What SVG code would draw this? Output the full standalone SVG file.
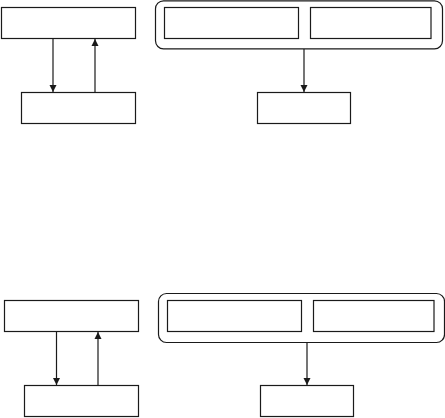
<svg xmlns="http://www.w3.org/2000/svg" width="445" height="418" viewBox="0 0 445 418">
<style>
.box{fill:none;stroke:#1a1a1a;stroke-width:1.2}
.con{fill:none;stroke:#1a1a1a;stroke-width:1.2}
</style>
<defs>
<marker id="ah" viewBox="0 0 10 10" refX="10" refY="5" markerUnits="userSpaceOnUse" markerWidth="7" markerHeight="8" orient="auto">
<path d="M0,0 L10,5 L0,10 Z" fill="#1a1a1a"/>
</marker>
</defs>
<rect width="445" height="418" fill="#fff"/>
<g id="tl-top"><rect class="box" x="1.5" y="7.5" width="134" height="31"/></g>
<g id="tl-bottom"><rect class="box" x="21.5" y="92.5" width="114" height="31"/></g>
<g id="tr-group">
<rect class="box" x="155.5" y="0.8" width="287" height="48" rx="8"/>
<rect class="box" x="164.5" y="7.5" width="134" height="31"/>
<rect class="box" x="310.5" y="7.5" width="120.5" height="31"/>
</g>
<g id="tr-bottom"><rect class="box" x="257.5" y="92.5" width="93" height="31"/></g>
<g id="bl-top"><rect class="box" x="4.5" y="300.5" width="134" height="31"/></g>
<g id="bl-bottom"><rect class="box" x="24.5" y="385.5" width="114" height="31"/></g>
<g id="br-group">
<rect class="box" x="158.5" y="293.5" width="286" height="49" rx="8"/>
<rect class="box" x="167.5" y="300.5" width="134" height="31"/>
<rect class="box" x="313.5" y="300.5" width="120.5" height="31"/>
</g>
<g id="br-bottom"><rect class="box" x="260.5" y="385.5" width="93" height="31"/></g>
<g id="connectors">
<line class="con" x1="53" y1="38.5" x2="53" y2="92" marker-end="url(#ah)"/>
<line class="con" x1="95" y1="92.5" x2="95" y2="39" marker-end="url(#ah)"/>
<line class="con" x1="304" y1="49" x2="304" y2="92" marker-end="url(#ah)"/>
<line class="con" x1="56.5" y1="331.5" x2="56.5" y2="385" marker-end="url(#ah)"/>
<line class="con" x1="98" y1="385.5" x2="98" y2="332" marker-end="url(#ah)"/>
<line class="con" x1="307" y1="342.5" x2="307" y2="385" marker-end="url(#ah)"/>
</g>
</svg>
